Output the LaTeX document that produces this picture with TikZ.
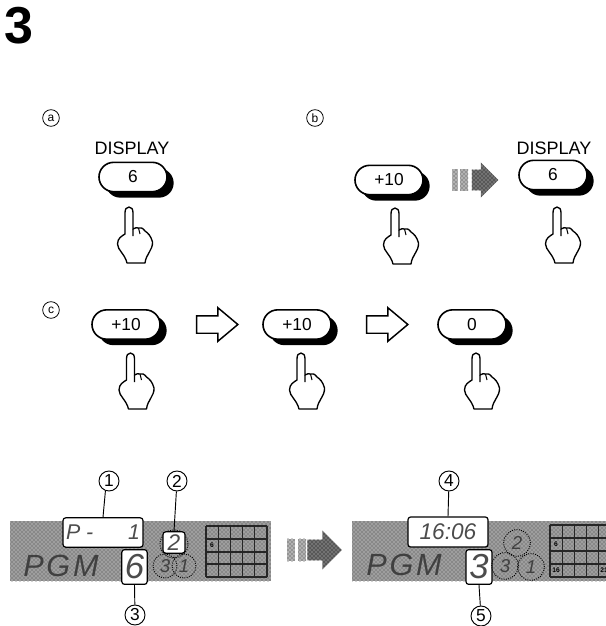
\documentclass[tikz,border=0pt]{standalone}
\usepackage{fontspec}
\setmainfont{Liberation Sans}
\usetikzlibrary{positioning,calc,shapes.misc,shapes.arrows,shadows,patterns}

\tikzset{
  hand/.pic={
    \draw[fill=white, line width=1pt, line join=round]
      (0,0) .. controls (-2.5,0) and (-4,2) .. (-4,6) -- (-4,27)
      .. controls (-7,29) and (-11.5,31) .. (-11.5,37)
      .. controls (-11.5,43) and (-4,47) .. (-2,56)
      -- (16,56)
      .. controls (17,47) and (24,43) .. (23.5,35)
      .. controls (22,29) and (19,26) .. (16,24)
      .. controls (14,21) and (11,20) .. (9.5,21)
      .. controls (8,20) and (6,21) .. (4,22)
      -- (4,6) .. controls (4,2) and (2.5,0) .. (0,0) -- cycle;
    \draw[line width=0.8pt] (4,22) -- (4,29) (9.5,21) -- (11,27);
  }
}

\newcommand{\segfont}[1]{\fontsize{#1}{#1}\selectfont\itshape}

\begin{document}
\begin{tikzpicture}[
  x=0.75pt, y=-0.75pt,
  keybtn/.style={draw=black, line width=1.2pt, fill=white, rounded rectangle, minimum width=51pt,
    minimum height=22pt, inner sep=0pt, font=\fontsize{13}{13}\selectfont,
    general shadow={shadow xshift=5pt, shadow yshift=-4.5pt, fill=black}},
  keyname/.style={font=\fontsize{13.5}{13.5}\selectfont, inner sep=0pt},
  steplabel/.style={draw, circle, line width=0.6pt, minimum size=12.5pt, inner sep=0pt, font=\fontsize{9}{9}\selectfont},
  callout/.style={draw, circle, line width=0.7pt, minimum size=15pt, inner sep=0pt, font=\fontsize{13}{13}\selectfont},
  openarrow/.style={draw=black, line width=1.1pt, fill=white, single arrow, minimum height=31pt, text height=12pt, text width=6pt,
    single arrow head extend=6pt, inner sep=0pt, single arrow head indent=0pt, single arrow tip angle=80},
  dimbar/.style={preaction={fill=black!30}, pattern=crosshatch dots, pattern color=black!80, inner sep=0pt, minimum height=16pt},
  dimhead/.style={single arrow, minimum height=20pt, text height=15pt, text width=4pt, single arrow head extend=5.5pt, inner sep=0pt,
    single arrow head indent=0pt, preaction={fill=black!55}, pattern=crosshatch dots, pattern color=black},
  panel/.style={preaction={fill=black!38}, pattern=crosshatch dots, pattern color=black!75},
  lcd/.style={draw=black, line width=0.9pt, fill=white, rounded corners=2pt, inner sep=0pt, text=black!70},
  ring/.style={draw=black, densely dotted, line width=0.7pt, circle, inner sep=0pt, minimum size=20pt, text=black!75},
  gridline/.style={line width=0.8pt, black!85}
]
\useasboundingbox (0,0) rectangle (606,626);

\node[font=\fontsize{39}{39}\selectfont\bfseries, inner sep=0pt] (title) at (19,26) {3};

% (a)
\node[steplabel] (labelA) at (51,118) {a};
\node[keyname] (nameA) at (132,148) {DISPLAY};
\node[keybtn] (btnA) at (133,177) {6};
\pic at (129,207) {hand};

% (b)
\node[steplabel] (labelB) at (315,118) {b};
\node[keybtn] (btnB) at (389,180) {+10};
\pic at (395,208) {hand};
\node[dimbar, minimum width=4pt] (barB1) at (455,180) {};
\node[dimbar, minimum width=6pt] (barB2) at (464,180) {};
\node[dimhead] (headB) at (480,180) {};
\node[keyname] (nameB) at (554,148) {DISPLAY};
\node[keybtn] (btnC) at (553,175) {6};
\pic at (557,207) {hand};

% (c)
\node[steplabel] (labelC) at (51,310) {c};
\node[keybtn] (btnD) at (126,324.5) {+10};
\pic at (130.5,353) {hand};
\node[openarrow] (arrowD) at (212,324.5) {};
\node[keybtn] (btnE) at (297,324.5) {+10};
\pic at (301,353) {hand};
\node[openarrow] (arrowE) at (382,324.5) {};
\node[keybtn] (btnF) at (472,324.5) {0};
\pic at (476,353) {hand};

% left display
\fill[panel] (10,521) rectangle (271,581);
\node[lcd, minimum width=60pt, minimum height=22pt, font=\segfont{16}] (lcdP) at (103,532.5) {P -\hspace{26pt}1};
\node[ring, minimum size=21pt] (ringL2) at (174,544) {};
\node[lcd, minimum width=16.5pt, minimum height=16pt, font=\segfont{17}] (lcdTwo) at (174,542.5) {2};
\node[lcd, minimum width=19pt, minimum height=26pt, font=\segfont{26}] (lcdSix) at (134.5,567) {6};
\node[font=\segfont{23}, text=black!75, inner sep=0pt] (pgmL) at (61,566) {P\hspace{2pt}G\hspace{2pt}M};
\node[ring, minimum size=18pt, font=\segfont{14}] (ringL3) at (165,566) {3};
\node[ring, minimum size=18pt, font=\segfont{14}] (ringL1) at (184,566) {1};
\foreach \gx in {206,218.2,...,268} \draw[gridline] (\gx,526) -- (\gx,577);
\foreach \gy in {526,539,552,564,577} \draw[gridline] (206,\gy) -- (267,\gy);
\node[font=\bfseries\fontsize{5}{5}\selectfont, inner sep=0pt] (cellL) at (212,545.5) {6};

% arrow between displays
\node[dimbar, minimum width=6pt, minimum height=17pt] (barF1) at (291,550) {};
\node[dimbar, minimum width=6pt, minimum height=17pt] (barF2) at (302,550) {};
\node[dimhead, minimum height=26pt, text width=6pt, single arrow head extend=7pt] (headF) at (319.5,550) {};

% right display
\fill[panel] (352,521) rectangle (606,581);
\node[lcd, minimum width=60pt, minimum height=22.5pt, font=\segfont{17}] (lcdTime) at (448,532) {16:06};
\node[lcd, minimum width=19.5pt, minimum height=26pt, font=\segfont{26}] (lcdThree) at (479,567) {3};
\node[font=\segfont{23}, text=black!75, inner sep=0pt] (pgmR) at (404,565) {P\hspace{2pt}G\hspace{2pt}M};
\node[ring, font=\segfont{14}] (ringR2) at (517,543) {2};
\node[ring, font=\segfont{14}] (ringR3) at (505,566) {3};
\node[ring, font=\segfont{14}] (ringR1) at (531,567) {1};
\begin{scope}
\clip (540,515) rectangle (606,585);
\foreach \gx in {550,562.2,...,600} \draw[gridline] (\gx,525) -- (\gx,577);
\foreach \gy in {525,538,551,564,577} \draw[gridline] (550,\gy) -- (606,\gy);
\node[font=\bfseries\fontsize{5}{5}\selectfont, inner sep=0pt] (cellR6) at (556,544.5) {6};
\node[font=\bfseries\fontsize{5}{5}\selectfont, inner sep=0pt] (cellR16) at (556,570.5) {16};
\node[font=\bfseries\fontsize{5}{5}\selectfont, inner sep=0pt] (cellR21) at (604,570.5) {21};
\end{scope}

% callouts
\node[callout] (callOne) at (109,481) {1};
\node[callout] (callTwo) at (177,481) {2};
\node[callout] (callThree) at (135,615) {3};
\node[callout] (callFour) at (449,481) {4};
\node[callout] (callFive) at (481,616) {5};
\draw[line width=0.7pt] (callOne.250) -- (lcdP.north);
\draw[line width=0.7pt] (callTwo) -- (lcdTwo.north);
\draw[line width=0.7pt] (lcdSix.south) -- (callThree);
\draw[line width=0.7pt] (callFour) -- (lcdTime.north);
\draw[line width=0.7pt] (lcdThree.south) -- (callFive);
\end{tikzpicture}
\end{document}
